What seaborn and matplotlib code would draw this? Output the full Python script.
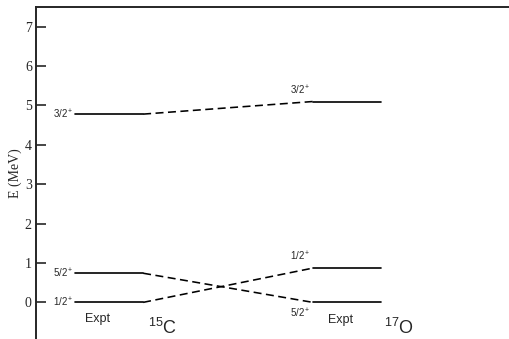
import pandas as pd
import matplotlib.pyplot as plt
import seaborn as sns

# level energies (MeV)
spins = ["1/2", "5/2", "3/2"]
e_c15 = [0.0, 0.74, 4.78]
e_o17 = [0.87, 0.0, 5.10]
nuclei = ["15", "17"]
symbols = ["C", "O"]
yticks = [0, 1, 2, 3, 4, 5, 6, 7]

# horizontal extent of the level bars (axis units)
c_x = (0.82, 2.26)
o_x = (5.84, 7.28)

rows = []
links = []
for i, (s, ec, eo) in enumerate(zip(spins, e_c15, e_o17)):
    rows += [dict(seg=f"c{i}", x=c_x[0], E=ec), dict(seg=f"c{i}", x=c_x[1], E=ec),
             dict(seg=f"o{i}", x=o_x[0], E=eo), dict(seg=f"o{i}", x=o_x[1], E=eo)]
    links += [dict(seg=f"l{i}", x=c_x[1], E=ec), dict(seg=f"l{i}", x=o_x[0], E=eo)]
df_lv = pd.DataFrame(rows)
df_ln = pd.DataFrame(links)

sns.set_style("ticks")
plt.rcParams["mathtext.fontset"] = "custom"
plt.rcParams["mathtext.rm"] = "Liberation Sans"
plt.rcParams["mathtext.it"] = "Liberation Sans"

fig = plt.figure(figsize=(5.10, 3.39), dpi=100)
ax = fig.add_axes([36 / 510, 0, 1 - 36 / 510, 332 / 339])

sns.lineplot(data=df_lv, x="x", y="E", units="seg", estimator=None,
             color="black", linewidth=1.2, ax=ax)
sns.lineplot(data=df_ln, x="x", y="E", units="seg", estimator=None,
             color="black", linewidth=1.15, linestyle=(0, (5, 2.8)), ax=ax)

sans = "Liberation Sans"
for s, ec in zip(spins, e_c15):
    ax.text(c_x[0] - 0.04, ec, f"{s}$^+$", ha="right", va="center",
            fontsize=7, family=sans)
# 17O labels: above for 1/2 and 3/2, below for 5/2
for s, eo in zip(spins, e_o17):
    if eo > 0.3:
        ax.text(o_x[0] - 0.05, eo + 0.12, f"{s}$^+$", ha="right", va="bottom",
                fontsize=7, family=sans)
    else:
        ax.text(o_x[0] - 0.05, eo - 0.12, f"{s}$^+$", ha="right", va="top",
                fontsize=7, family=sans)

ax.text(1.29, -0.42, "Expt", ha="center", va="center", fontsize=9, family=sans)
ax.text(6.43, -0.44, "Expt", ha="center", va="center", fontsize=9, family=sans)
ax.text(2.36, -0.66, f"$^{{{nuclei[0]}}}${symbols[0]}", ha="left", va="center",
        fontsize=13, family=sans)
ax.text(7.35, -0.66, f"$^{{{nuclei[1]}}}${symbols[1]}", ha="left", va="center",
        fontsize=13, family=sans)

ax.set_xlim(0, 10)
ax.set_ylim(-0.93, 7.5)
ax.set_yticks(yticks)
ax.set_xticks([])
ax.set_xlabel("")
ax.set_ylabel("E (MeV)", family="Liberation Serif", fontsize=10, labelpad=2)
ax.tick_params(axis="y", direction="in", length=7.5, width=1.2,
               labelsize=10, pad=3)
for lab in ax.get_yticklabels():
    lab.set_family("Liberation Serif")
ax.spines["right"].set_visible(False)
ax.spines["bottom"].set_visible(False)
ax.spines["top"].set_linewidth(1.4)
ax.spines["left"].set_linewidth(1.4)

fig.savefig("out.png", dpi=100)
